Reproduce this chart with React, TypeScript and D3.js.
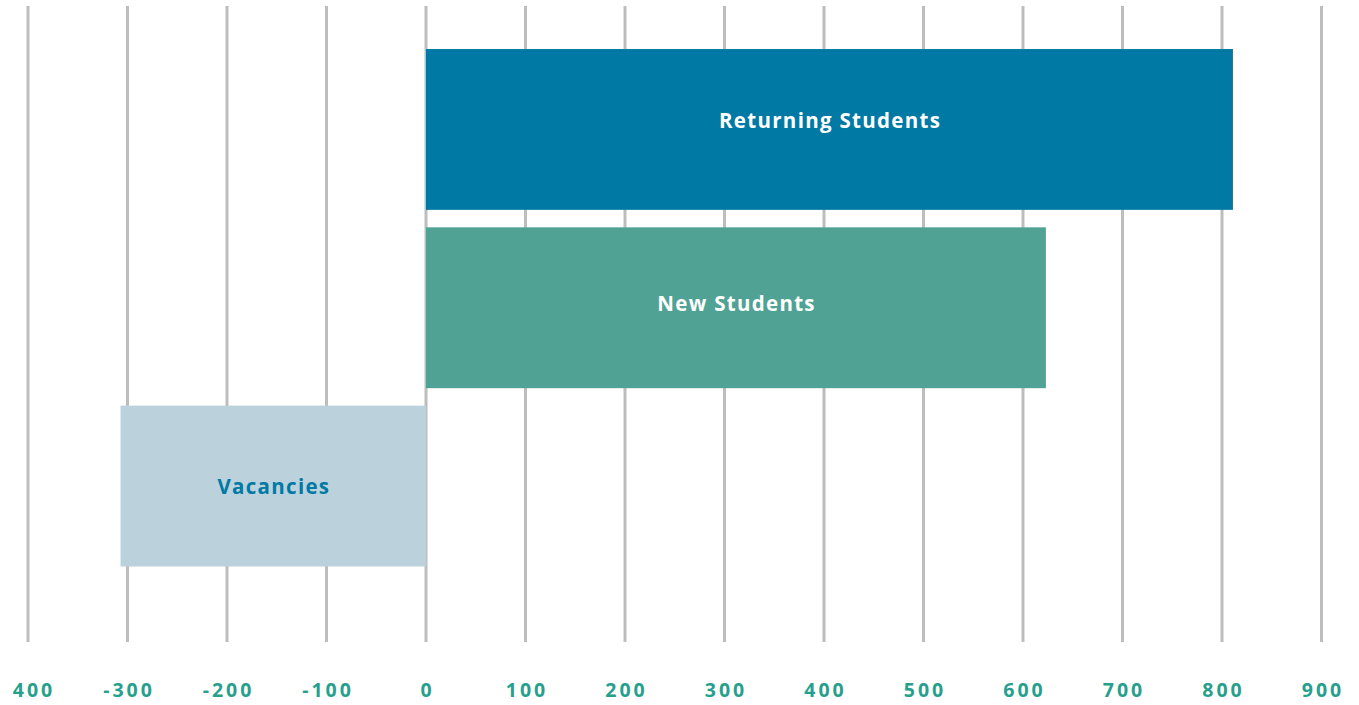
import React from "react";
import * as d3 from "d3";

const categories = ["Returning Students", "New Students", "Vacancies"];
const values = [811, 623, -307];
const tickValues = [-400, -300, -200, -100, 0, 100, 200, 300, 400, 500, 600, 700, 800, 900];
const tickLabels = ["400", "-300", "-200", "-100", "0", "100", "200", "300", "400", "500", "600", "700", "800", "900"];
const barColors = ["#0079a4", "#50a294", "#bbd2dc"];
const labelColors = ["#ffffff", "#ffffff", "#0079a4"];

const W = 1359;
const H = 705;
const FONT = "'Open Sans', 'DejaVu Sans', sans-serif";

export default function App() {
  const x = d3.scaleLinear().domain([-400, 900]).range([28, 1321.5]);
  const y = d3.scaleBand<string>().domain(categories).range([49, 566.5]).paddingInner(0.098).paddingOuter(0);
  const labelDy = [-1, 3, 8];
  const barLs = 1.3;
  const tickLs = 3;
  return (
    <svg width={W} height={H} style={{ position: "absolute", left: 0, top: 0, background: "#fff" }}>
      <g>
        {tickValues.map((t) => (
          <line key={t} x1={x(t)} x2={x(t)} y1={6} y2={642} stroke="#bdbdbd" strokeWidth={3} />
        ))}
      </g>
      <g>
        {categories.map((c, i) => {
          const x0 = x(Math.min(0, values[i]));
          const x1 = x(Math.max(0, values[i]));
          const y0 = y(c)!;
          return (
            <g key={c}>
              <rect x={x0} y={y0} width={x1 - x0} height={y.bandwidth()} fill={barColors[i]} />
              <text
                x={(x0 + x1) / 2 + barLs / 2}
                y={y0 + y.bandwidth() / 2 + labelDy[i]}
                textAnchor="middle"
                fill={labelColors[i]}
                fontFamily={FONT}
                fontWeight={700}
                fontSize={20.5}
                letterSpacing={barLs}
              >
                {c}
              </text>
            </g>
          );
        })}
      </g>
      <g>
        {tickValues.map((t, i) => (
          <text
            key={t}
            x={x(t) + tickLs / 2 + (i === 0 ? 4.5 : 0)}
            y={697}
            textAnchor="middle"
            fill="#26a08c"
            fontFamily={FONT}
            fontWeight={700}
            fontSize={19.5}
            letterSpacing={tickLs}
          >
            {tickLabels[i]}
          </text>
        ))}
      </g>
    </svg>
  );
}
